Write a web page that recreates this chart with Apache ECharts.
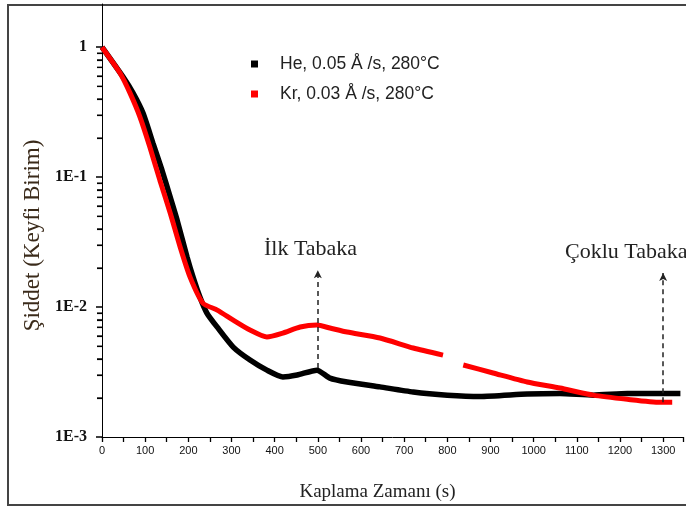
<!DOCTYPE html>
<html>
<head>
<meta charset="utf-8">
<script src="https://cdn.jsdelivr.net/npm/echarts@6/dist/echarts.min.js"></script>
<style>
  html, body { margin: 0; padding: 0; background: #fff; }
  #chart { width: 686px; height: 509px; }
</style>
</head>
<body>
<div id="chart"></div>
<script>
// He series (black)
var heTime = [0, 49, 72, 95, 118, 139, 158, 174, 197, 211, 227, 243, 267, 304, 343, 382, 419, 452, 498, 528, 568, 644, 721, 800, 876, 985, 1061, 1138, 1217, 1293, 1340];
var heValue = [1.0, 0.588, 0.443, 0.311, 0.183, 0.113, 0.0702, 0.0467, 0.0243, 0.017, 0.0119, 0.009, 0.007, 0.00492, 0.00391, 0.00327, 0.0029, 0.003, 0.00327, 0.00284, 0.00265, 0.00243, 0.00222, 0.0021, 0.00205, 0.00214, 0.00216, 0.0021, 0.00216, 0.00216, 0.00216];

// Kr series (red); null marks the gap in the record
var krTime = [0, 42, 65, 88, 111, 134, 158, 181, 204, 234, 267, 304, 343, 382, 419, 459, 498, 528, 568, 644, 721, 790, 815, 837, 906, 985, 1061, 1138, 1217, 1293, 1321];
var krValue = [1.0, 0.631, 0.443, 0.29, 0.17, 0.0948, 0.0529, 0.029, 0.017, 0.0107, 0.00948, 0.00794, 0.00665, 0.00588, 0.00631, 0.00702, 0.00727, 0.0069, 0.00642, 0.00578, 0.00484, 0.00427, null, 0.00358, 0.00311, 0.00265, 0.00238, 0.0021, 0.00195, 0.00185, 0.00185];

var majorTicks = [0.001, 0.01, 0.1, 1];
var minorTicks = [];
[0.001, 0.01, 0.1].forEach(function(d) {
  for (var k = 2; k <= 9; k++) minorTicks.push(+(d * k).toPrecision(3));
});

function pairs(t, v) {
  return t.map(function(x, i) { return [x, v[i]]; });
}

var serif = '"Liberation Serif", "Times New Roman", serif';
var sans = '"Liberation Sans", Arial, sans-serif';

var chart = echarts.init(document.getElementById('chart'), null, { renderer: 'canvas' });
chart.setOption({
  animation: false,
  backgroundColor: '#fff',
  grid: { left: 102, right: 3, top: 4, bottom: 72 },
  legend: {
    orient: 'vertical',
    left: 246,
    top: 50,
    itemGap: 12,
    itemWidth: 7,
    itemHeight: 7,
    icon: 'rect',
    textStyle: { fontFamily: sans, fontSize: 17.5, color: '#222', padding: [0, 0, 0, 17] },
    data: ['He, 0.05 Å /s, 280°C', 'Kr, 0.03 Å /s, 280°C']
  },
  xAxis: {
    type: 'value',
    min: 0,
    max: 1346,
    interval: 50,
    name: 'Kaplama Zamanı (s)',
    nameLocation: 'middle',
    nameGap: 46,
    nameTextStyle: { fontFamily: serif, fontSize: 19, color: '#222', padding: [0, 30, 0, 0] },
    axisLine: { lineStyle: { color: '#000', width: 1 } },
    axisTick: { length: 5, lineStyle: { color: '#000', width: 1.3 } },
    splitLine: { show: false },
    axisLabel: {
      margin: 8,
      fontFamily: sans,
      fontSize: 11,
      color: '#111',
      formatter: function(v) { return v % 100 === 0 ? String(v) : ''; }
    }
  },
  yAxis: {
    type: 'log',
    min: 0.001,
    max: 2.15,
    name: 'Şiddet (Keyfi Birim)',
    nameLocation: 'middle',
    nameGap: 49,
    nameTextStyle: { fontFamily: serif, fontSize: 23, color: '#3a2a1a', padding: [0, 30, 0, 0] },
    axisLine: { lineStyle: { color: '#000', width: 1 } },
    axisTick: { length: 6, customValues: majorTicks, lineStyle: { color: '#000', width: 1.5 } },
    splitLine: { show: false },
    axisLabel: {
      customValues: majorTicks,
      margin: 15,
      fontFamily: serif,
      fontWeight: 'bold',
      fontSize: 16,
      color: '#111',
      formatter: function(v) {
        var e = Math.round(Math.log10(v));
        return e === 0 ? '1' : '1E' + e;
      }
    }
  },
  series: [{
    name: 'He, 0.05 Å /s, 280°C',
    type: 'line',
    data: pairs(heTime, heValue),
    showSymbol: false,
    smooth: 0.2,
    itemStyle: { color: '#000' },
    lineStyle: { color: '#000', width: 5.5 },
    markLine: {
      silent: true,
      symbol: ['none', 'arrow'],
      symbolSize: [6, 8],
      label: { show: false },
      lineStyle: { color: '#222', type: [5, 4], width: 1.5 },
      data: [
        [{ coord: [500, 0.0034] }, { coord: [500, 0.0192] }],
        [{ coord: [1300, 0.00185] }, { coord: [1300, 0.0183] }]
      ]
    }
  }, {
    name: 'Kr, 0.03 Å /s, 280°C',
    type: 'line',
    data: pairs(krTime, krValue),
    connectNulls: false,
    showSymbol: false,
    smooth: 0.2,
    itemStyle: { color: '#ff0000' },
    lineStyle: { color: '#ff0000', width: 5 }
  }, {
    // minor ticks of the log axis as thin rect symbols on the axis line
    type: 'scatter',
    silent: true,
    clip: false,
    z: 10,
    symbol: 'rect',
    symbolSize: [5, 1.4],
    symbolOffset: [-2.5, 0],
    itemStyle: { color: '#000' },
    data: minorTicks.map(function(v) { return [0, v]; })
  }],
  graphic: [{
    type: 'rect',
    shape: { x: 8, y: 5, width: 700, height: 500 },
    style: { fill: 'none', stroke: '#444', lineWidth: 2 },
    silent: true
  }, {
    type: 'text',
    left: 264,
    top: 238,
    style: { text: 'İlk Tabaka', font: '22px ' + serif, fill: '#222' }
  }, {
    type: 'text',
    left: 565,
    top: 241,
    style: { text: 'Çoklu Tabaka', font: '22px ' + serif, fill: '#222' }
  }]
});

// second pass once the chart is laid out: minor ticks placed through the axis scale
setTimeout(function() {
  var extra = [];
  minorTicks.forEach(function(v) {
    var p = chart.convertToPixel({ seriesIndex: 0 }, [0, v]);
    if (!p || !isFinite(p[0]) || !isFinite(p[1])) return;
    var y = Math.round(p[1]) + 0.5;
    extra.push({
      type: 'line',
      silent: true,
      z: 100,
      shape: { x1: p[0] - 5, y1: y, x2: p[0], y2: y },
      style: { stroke: '#000', lineWidth: 1.2 }
    });
  });
  if (extra.length) {
    chart.setOption({ graphic: chart.getOption().graphic[0].elements.concat(extra) });
  }
}, 0);

window.addEventListener('resize', function() { chart.resize(); });
</script>
</body>
</html>
